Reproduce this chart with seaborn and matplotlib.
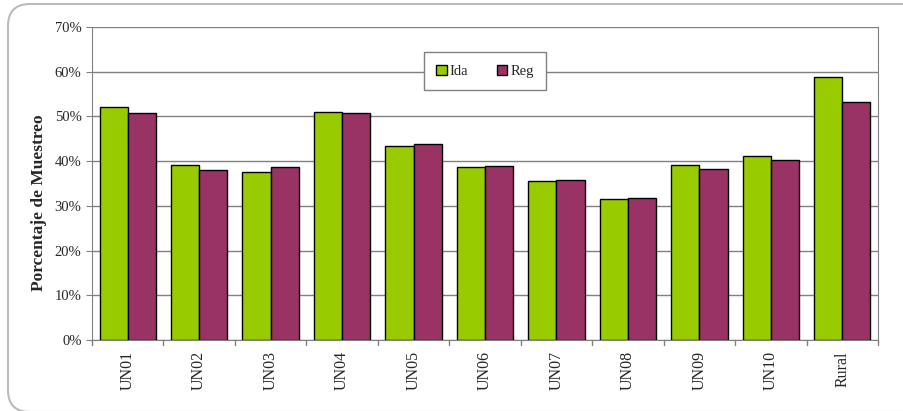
import pandas as pd
import numpy as np
import seaborn as sns
import matplotlib.pyplot as plt
from matplotlib.patches import FancyBboxPatch

# Values (percent)
categories = ["UN01", "UN02", "UN03", "UN04", "UN05", "UN06", "UN07", "UN08", "UN09", "UN10", "Rural"]
ida = [52.1, 39.2, 37.6, 51.0, 43.3, 38.8, 35.5, 31.5, 39.1, 41.1, 58.9]
reg = [50.8, 38.0, 38.7, 50.7, 43.8, 38.9, 35.7, 31.8, 38.2, 40.2, 53.2]
series = ["Ida", "Reg"]
colors = ["#99CC00", "#993366"]

df = pd.DataFrame({
    "cat": categories * 2,
    "serie": ["Ida"] * len(categories) + ["Reg"] * len(categories),
    "valor": ida + reg,
})

sns.set_style("white")
plt.rcParams["font.family"] = ["Liberation Serif", "DejaVu Serif"]

fig = plt.figure(figsize=(9.04, 4.11), dpi=100)
fig.patch.set_facecolor("white")
# rounded frame, cut off at the right and bottom edges (pixel coordinates)
border = FancyBboxPatch((8, -1), 930, 408, boxstyle="round,pad=0,rounding_size=22",
                        transform=None, facecolor="white", edgecolor="#BBBBBB",
                        linewidth=1.5, zorder=-10)
fig.patches.append(border)

ax = fig.add_axes([0.1018, 0.1727, 0.8694, 0.7615])
ax.patch.set_alpha(0)
sns.barplot(data=df, x="cat", y="valor", hue="serie", hue_order=series, palette=colors,
            width=0.79, edgecolor="black", linewidth=1.0, ax=ax, saturation=1, errorbar=None)

ax.set_ylim(0, 70)
ax.set_xlim(-0.5, len(categories) - 0.5)
ax.set_yticks(np.arange(0, 71, 10))
ax.set_yticklabels([f"{v}%" for v in range(0, 71, 10)], fontsize=10.5)
ax.yaxis.grid(True, color="#808080", linewidth=1.0)
ax.set_axisbelow(True)
ax.tick_params(axis="x", rotation=90, labelsize=11.5, length=0, pad=8)
ax.tick_params(axis="y", length=4, color="#808080", left=True)
for x in np.arange(-0.5, len(categories), 1):
    ax.axvline(x, ymin=-0.015, ymax=0, color="#808080", linewidth=1.0, clip_on=False)
for s in ["left", "bottom", "right"]:
    ax.spines[s].set_color("#808080")
ax.spines["top"].set_visible(False)
ax.set_xlabel("")
ax.set_ylabel("Porcentaje de Muestreo", fontsize=12.5, fontweight="bold")
ax.yaxis.set_label_coords(-0.057, 0.44)

leg = ax.legend(loc="center", bbox_to_anchor=(0.5, 0.858), ncol=2, frameon=True, fancybox=False,
                fontsize=10.5, handlelength=0.7, handleheight=0.7, handletextpad=0.2,
                columnspacing=2.0, borderpad=0.85, borderaxespad=0)
leg.get_frame().set_edgecolor("#808080")
leg.get_frame().set_linewidth(1.0)
leg.get_frame().set_alpha(1)

fig.savefig("out.png", dpi=100)
plt.close()
